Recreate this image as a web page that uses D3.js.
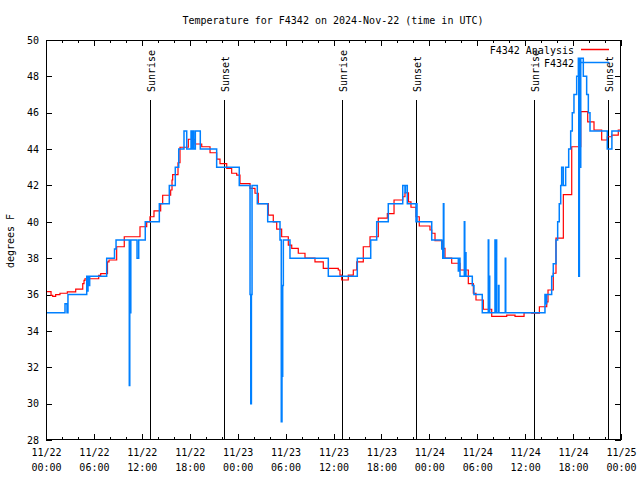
<!DOCTYPE html>
<html><head><meta charset="utf-8">
<script src="https://cdn.jsdelivr.net/npm/d3@7"></script>
<style>body{margin:0;background:#fff}svg{display:block}</style>
</head><body>
<svg id="chart" width="640" height="480"></svg>
<script>
const chartTitle = "Temperature for F4342 on 2024-Nov-22 (time in UTC)";
const yLabel = "degrees F";
const seriesNames = ["F4342 Analysis", "F4342"];
const seriesColors = ["#ff0000", "#0080ff"];
const startUTC = Date.UTC(2024, 10, 22, 0, 0);
const yTicks = [28, 30, 32, 34, 36, 38, 40, 42, 44, 46, 48, 50];
const xMajorHours = [0, 6, 12, 18, 24, 30, 36, 42, 48, 54, 60, 66, 72];
const xMinorHours = [2, 4, 8, 10, 14, 16, 20, 22, 26, 28, 32, 34, 38, 40, 44, 46, 50, 52, 56, 58, 62, 64, 68, 70];
const xTickDates = ["11/22","11/22","11/22","11/22","11/23","11/23","11/23","11/23","11/24","11/24","11/24","11/24","11/25"];
const xTickTimes = ["00:00","06:00","12:00","18:00","00:00","06:00","12:00","18:00","00:00","06:00","12:00","18:00","00:00"];
const sunriseHours = [13.03, 37.02, 61.05];
const sunsetHours = [22.33, 46.37, 70.34];

const analysisHours = [0,0.63,0.84,1.21,1.75,2.67,3.72,4.60,4.76,4.88,6.60,6.85,7.70,7.89,8.85,9.80,11.77,12.61,13.02,13.52,14.36,14.61,15.61,15.78,15.86,16.53,16.78,17.82,18.66,19.50,20.54,21.37,21.79,22.63,23.25,23.88,24.29,25.55,26.17,26.58,27.84,28.46,28.89,29.51,30.34,30.77,31.59,32.43,33.68,34.72,36.60,36.81,37.02,37.85,38.48,38.91,39.73,40.57,41.61,42.74,43.58,44.67,44.95,45.39,45.70,46.33,46.74,48.08,48.30,48.71,49.68,49.96,50.80,51.84,52.88,53.51,53.84,54.76,55.81,57.69,58.73,59.86,60.82,61.78,62.70,62.86,63.52,63.86,64.78,65.83,66.96,67.83,68.62,69.58,70.28,70.83,71.66,72];
const analysisTemps = [36.16,35.95,35.9,36.0,36.07,36.15,36.3,36.6,36.78,36.87,37.05,37.15,37.8,37.9,38.63,39.18,39.73,40.0,40.28,40.6,41.0,41.46,41.75,42.3,42.6,43.25,44.1,44.54,44.28,44.13,43.8,43.45,43.2,42.94,42.67,42.57,42.1,41.84,41.57,41.0,40.37,40.0,39.6,39.18,38.72,38.54,38.27,38.0,37.8,37.44,37.35,37.07,36.8,37.07,37.35,37.8,38.63,39.18,40.2,40.45,41.2,41.38,41.6,41.1,40.8,40.28,39.77,39.55,39.37,38.96,38.54,38.0,37.72,37.35,36.6,36.07,35.7,35.19,34.8,34.87,34.8,35.0,34.97,35.33,35.6,36.25,37.17,39.1,41.5,44.13,46.06,45.5,45.05,44.5,44.68,44.77,45.05,45.05];

const stationHours = [0,2.38,2.63,2.75,5.10,5.17,5.26,5.38,5.47,7.60,8.58,8.77,10.43,10.49,10.56,10.62,11.40,11.61,12.43,14.19,15.44,16.19,16.62,17.28,17.62,18.16,18.28,18.35,18.50,18.70,19.32,21.37,24.20,25.55,25.64,25.72,25.80,26.46,27.76,29.30,29.46,29.55,29.64,29.72,30.55,35.35,38.98,40.66,41.41,42.86,44.67,44.95,45.01,45.24,46.33,46.40,46.46,48.30,49.55,49.68,49.76,49.82,51.63,51.72,51.84,52.38,52.44,52.50,52.59,53.38,53.59,54.63,55.38,55.44,55.50,55.56,56.22,56.28,56.37,56.43,56.66,56.72,57.51,57.57,62.48,62.61,62.69,63.32,63.52,63.86,64.07,64.27,64.45,64.57,64.77,65.07,65.45,65.70,65.90,66.11,66.45,66.66,66.71,66.79,66.87,66.96,67.28,67.70,67.91,68.12,70.28,70.86,72];
const stationTemps = [35,35.5,35,36,37,36.2,37,36.5,37,38,38.5,39,31,39,35,39,38,39,40,41,42,43,44,45,44,45,44,45,44,45,44,43,42,36,30,36,42,41,40,39,29,31.5,36.5,39,38,37,38,39,40,41,42,41.6,42,41,40,41,40,39,38.5,38,41,38,37.3,38,37,40,37,38.3,37,36.5,36,35,39,35,37,35,39,35,39,35,36.5,35,38,35,36,35.5,36,37,37.7,39,40,41,42,43,42,43,44,45,46,47,48,49,37,49,43,49,48,47,46,45,44,45,45];

const FONT = "'DejaVu Sans Mono', 'Liberation Mono', monospace";
const L = 46, R = 621, T = 40, B = 440;
const svg = d3.select("#chart");
const toDate = h => new Date(startUTC + h * 3600000);
const x = d3.scaleUtc().domain([toDate(0), toDate(72)]).range([L, R]);
const y = d3.scaleLinear().domain([28, 50]).range([B, T]);

svg.append("rect").attr("width", 640).attr("height", 480).attr("fill", "#fff");

// title
svg.append("text").attr("x", 333).attr("y", 24).attr("text-anchor", "middle")
  .attr("font-family", FONT).attr("font-size", 10).text(chartTitle);

// y label
svg.append("text").attr("transform", "translate(14,241) rotate(-90)").attr("text-anchor", "middle")
  .attr("font-family", FONT).attr("font-size", 10).text(yLabel);

// axes
const gB = svg.append("g").attr("transform", `translate(0,${B})`)
  .call(d3.axisBottom(x).tickValues(xMajorHours.map(toDate)).tickSize(-6).tickFormat(() => ""));
const gBm = svg.append("g").attr("transform", `translate(0,${B})`)
  .call(d3.axisBottom(x).tickValues(xMinorHours.map(toDate)).tickSize(-3).tickFormat(() => ""));
const gT = svg.append("g").attr("transform", `translate(0,${T})`)
  .call(d3.axisTop(x).tickValues(xMajorHours.map(toDate)).tickSize(-6).tickFormat(() => ""));
const gTm = svg.append("g").attr("transform", `translate(0,${T})`)
  .call(d3.axisTop(x).tickValues(xMinorHours.map(toDate)).tickSize(-3).tickFormat(() => ""));
const gL = svg.append("g").attr("transform", `translate(${L},0)`)
  .call(d3.axisLeft(y).tickValues(yTicks).tickSize(-6).tickPadding(7).tickFormat(d3.format("d")));
const gR = svg.append("g").attr("transform", `translate(${R},0)`)
  .call(d3.axisRight(y).tickValues(yTicks).tickSize(-6).tickFormat(() => ""));
[gB, gBm, gT, gTm, gL, gR].forEach(g => {
  g.select(".domain").remove();
  g.selectAll("line").attr("stroke", "#000").attr("shape-rendering", "crispEdges");
  g.selectAll("text").attr("font-family", FONT).attr("font-size", 10).attr("fill", "#000");
});
// x labels two lines
gB.selectAll(".tick").each(function(d, i) {
  const t = d3.select(this).select("text");
  t.text(null).attr("y", null).attr("dy", null);
  t.append("tspan").attr("x", 0).attr("y", 16).text(xTickDates[i]);
  t.append("tspan").attr("x", 0).attr("y", 31).text(xTickTimes[i]);
});

// sun lines
const sunEvents = sunriseHours.map(h => ({h, name: "Sunrise"})).concat(sunsetHours.map(h => ({h, name: "Sunset"})));
sunEvents.forEach(ev => {
  const px = Math.round(x(toDate(ev.h))) + 0.5;
  svg.append("line").attr("x1", px).attr("x2", px).attr("y1", 100).attr("y2", B)
    .attr("stroke", "#000").attr("stroke-width", 1);
  svg.append("text").attr("transform", `translate(${px + 4.5},92) rotate(-90)`)
    .attr("font-family", FONT).attr("font-size", 10).text(ev.name);
});

// clip
svg.append("clipPath").attr("id", "clip").append("rect")
  .attr("x", L).attr("y", T).attr("width", R - L).attr("height", B - T);

const line = d3.line().curve(d3.curveStepAfter).x(d => x(toDate(d[0]))).y(d => y(d[1]));
const analysis = analysisHours.map((h, i) => [h, analysisTemps[i]]);
const station = stationHours.map((h, i) => [h, stationTemps[i]]);
const gData = svg.append("g").attr("clip-path", "url(#clip)");
gData.append("path").datum(analysis).attr("d", line).attr("fill", "none")
  .attr("stroke", seriesColors[0]).attr("stroke-width", 1.2);
gData.append("path").datum(station).attr("d", line).attr("fill", "none")
  .attr("stroke", seriesColors[1]).attr("stroke-width", 1.5);

// border
svg.append("rect").attr("x", L + 0.5).attr("y", T + 0.5).attr("width", R - L - 1).attr("height", B - T - 1)
  .attr("fill", "none").attr("stroke", "#000").attr("stroke-width", 1);

// legend
seriesNames.forEach((name, i) => {
  const ly = 50 + i * 13;
  svg.append("text").attr("x", 574).attr("y", ly + 3.5).attr("text-anchor", "end")
    .attr("font-family", FONT).attr("font-size", 10).text(name);
  svg.append("line").attr("x1", 581).attr("x2", 609).attr("y1", ly - 0.5).attr("y2", ly - 0.5)
    .attr("stroke", seriesColors[i]).attr("stroke-width", 1.5);
});
</script>
</body></html>
